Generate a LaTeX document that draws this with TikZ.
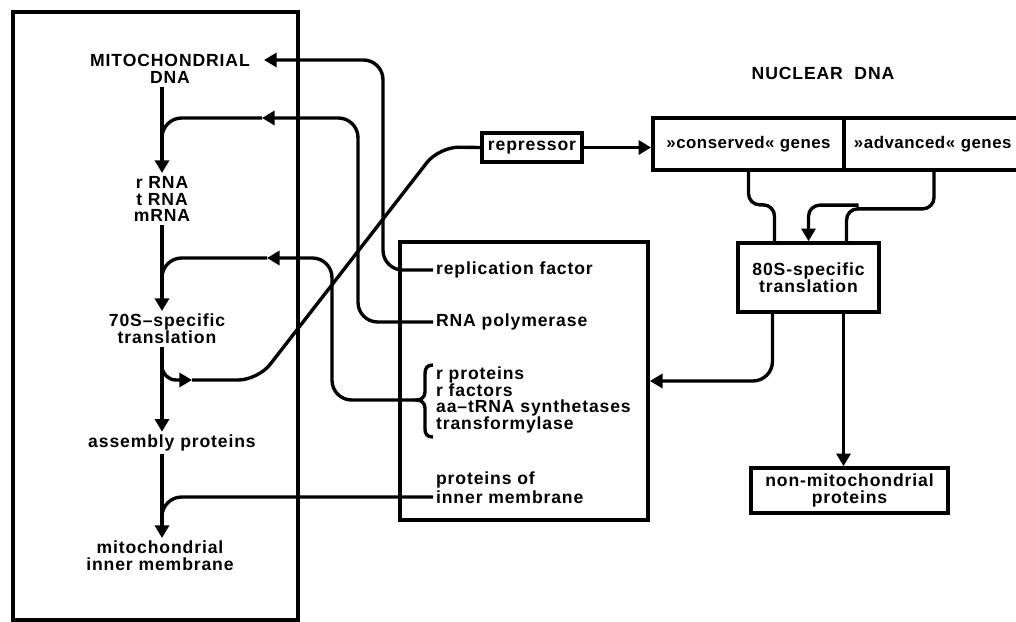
\documentclass[tikz,border=0pt]{standalone}
\usepackage{fontspec}
\setmainfont{Liberation Sans}[LetterSpace=5]
\usetikzlibrary{arrows.meta,calc}

\begin{document}
\begin{tikzpicture}[x=0.025cm,y=-0.025cm,line width=2.4pt,
  lbl/.style={font=\bfseries\fontsize{12.5}{12}\selectfont,inner sep=1pt,align=center},
  gene/.style={font=\bfseries\fontsize{12}{12}\selectfont\addfontfeatures{LetterSpace=3}},
  box/.style={draw,line width=2.6pt},
  arr/.style={-{Triangle[length=9pt,width=10pt]}}]
\useasboundingbox (0,0) rectangle (1016,622);

\node[box,minimum width=7.125cm,minimum height=15.2cm] (mito) at (155.5,316) {};
\node[box,minimum width=6.2cm,minimum height=6.95cm] (mid) at (524,381) {};

\node[lbl] (mtdna) at (170,69) {MITOCHONDRIAL\\DNA};
\node[lbl] (rna) at (162,199) {r RNA\\t RNA\\mRNA};
\node[lbl] (tr70) at (167,329) {70S–specific\\translation};
\node[lbl] (asm) at (172,443) {assembly proteins};
\node[lbl] (mim) at (160,556) {mitochondrial\\inner membrane};

\node[lbl,anchor=west] (repf) at (433,270) {replication factor};
\node[lbl,anchor=west] (rnapol) at (433,322) {RNA polymerase};
\node[lbl,anchor=west,align=left] (rprot) at (433,400) {r proteins\\r factors\\aa–tRNA synthetases\\transformylase};
\node[lbl,anchor=west] (protof) at (433,480) {proteins of};
\node[lbl,anchor=west] (inner) at (433,497) {inner membrane};

\draw (433,365) .. controls (427,365) and (425,368) .. (425,374) -- (425,392)
  .. controls (425,397) and (421,400) .. (417,400)
  .. controls (421,400) and (425,403) .. (425,408) -- (425,429)
  .. controls (425,434) and (427,437) .. (433,437);
\coordinate (btip) at (417,400);

\node[box,lbl,minimum width=2.5cm,minimum height=0.725cm] (rep) at (532,147.5) {repressor};
\node[lbl] (nuc) at (823,73) {NUCLEAR\ \ DNA};
\node[box,lbl,gene,minimum width=4.775cm,minimum height=1.3cm] (cons) at (748.5,144) {»conserved« genes};
\node[box,lbl,gene,align=left,text width=4.0cm,minimum width=4.5cm,minimum height=1.3cm] (adv) at (934,144) {»advanced« genes};
\node[box,lbl,minimum width=3.525cm,minimum height=1.725cm] (tr80) at (808.5,277.5) {80S-specific\\translation};
\node[box,lbl,minimum width=4.925cm,minimum height=1.125cm] (nonm) at (849.5,490.5) {non-mitochondrial\\proteins};

\draw[arr] (mtdna.south -| rna) -- (rna.north);
\draw[arr] (rna.south) -- (rna.south |- tr70.north);
\draw[arr] (tr70.south -| rna) -- (asm.north -| rna);
\draw[arr] (asm.south -| rna) -- (mim.north -| rna);

\coordinate (e1) at (264,60);
\coordinate (e2) at (262,118);
\coordinate (e3) at (267,258);
\coordinate (e4) at (192,380);
\draw[arr,rounded corners=14pt] (repf.west) -| (383,60) -- (e1);
\draw[arr,rounded corners=14pt] (rnapol.west) -| (358,118) -- (e2);
\draw[rounded corners=14pt] (e2) -| ($(rna.north)+(0,-25)$);
\draw[arr,rounded corners=14pt] (btip) -| (332,258) -- (e3);
\draw[rounded corners=14pt] (e3) -| ($(tr70.north -| rna)+(0,-25)$);
\draw[rounded corners=14pt] (inner.west) -| ($(mim.north -| rna)+(0,-15)$);

\draw[arr,rounded corners=10pt] ($(tr70.south -| rna)+(0,12)$) |- (e4);
\draw[rounded corners=14pt] (e4) -- (258,380) -- (439,147) -- (rep.west);

\draw[arr] (rep.east) -- (rep.east -| cons.west);
\draw[rounded corners=8pt] (cons.south) -- ++(0,33) -| ($(tr80.north)+(-34,0)$);
\draw[rounded corners=8pt] (adv.south) -- ++(0,37) -| ($(tr80.north)+(38,0)$);
\draw[arr,rounded corners=8pt] ($(tr80.north)+(50,-36)$) -| (tr80.north);
\draw[arr,rounded corners=14pt] ($(tr80.south)+(-36,0)$) |- (mid.east);
\coordinate (t2) at ($(tr80.south)+(35,0)$);
\draw[arr] (t2) -- (t2 |- nonm.north);
\end{tikzpicture}
\end{document}
